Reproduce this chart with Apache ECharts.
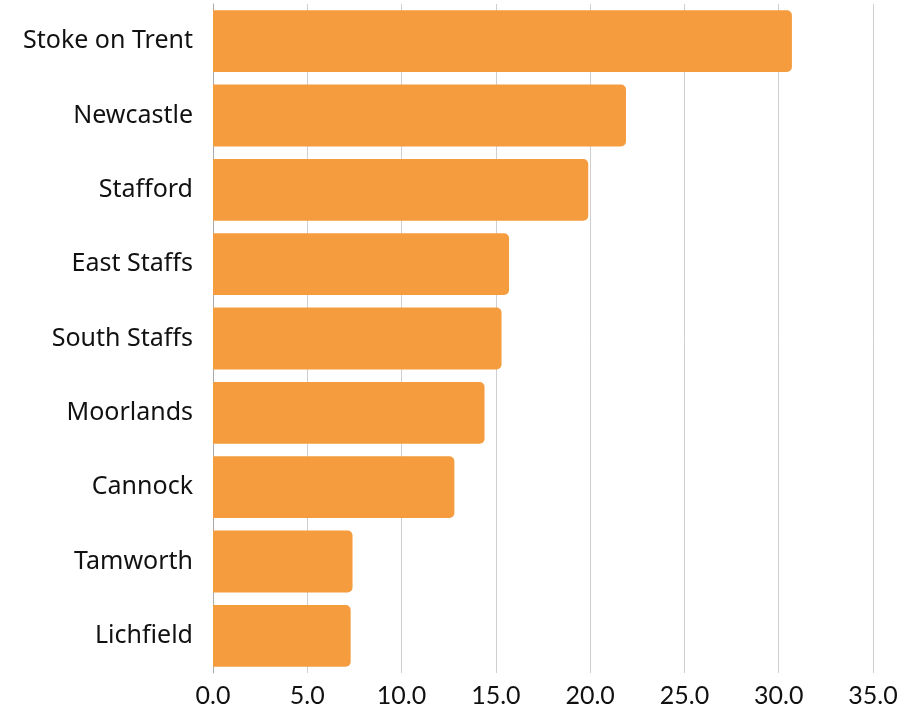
<!DOCTYPE html>
<html>
<head>
<meta charset="utf-8">
<script src="https://cdn.jsdelivr.net/npm/echarts@6/dist/echarts.min.js"></script>
<style>
html,body{margin:0;padding:0;background:#fff;}
#chart{width:913px;height:708px;}
</style>
</head>
<body>
<div id="chart"></div>
<script>
const categories = ["Stoke on Trent","Newcastle","Stafford","East Staffs","South Staffs","Moorlands","Cannock","Tamworth","Lichfield"];
const values = [30.7, 21.9, 19.9, 15.7, 15.3, 14.4, 12.8, 7.4, 7.3];

const chart = echarts.init(document.getElementById('chart'), null, {renderer:'canvas'});
chart.setOption({
  animation: false,
  grid: {left: 213, right: 40, top: 4, bottom: 34, containLabel: false},
  xAxis: {
    type: 'value', min: 0, max: 35, interval: 5,
    axisLine: {show: false}, axisTick: {show: false},
    splitLine: {show: true, lineStyle: {color: '#cfcfcf', width: 1}},
    axisLabel: {formatter: v => v.toFixed(1), fontFamily: 'Lato', fontSize: 25, color: '#111', margin: 10}
  },
  yAxis: {
    type: 'category', data: categories, inverse: true,
    axisLine: {show: true, lineStyle: {color: '#aaaaaa', width: 1}},
    axisTick: {show: false},
    axisLabel: {fontFamily: 'Noto Sans', fontSize: 25, color: '#111', margin: 20}
  },
  series: [{
    type: 'bar', data: values, barCategoryGap: '16.8%',
    itemStyle: {color: '#F59C3E', borderRadius: [0, 5, 5, 0]}
  }]
});
</script>
</body>
</html>
